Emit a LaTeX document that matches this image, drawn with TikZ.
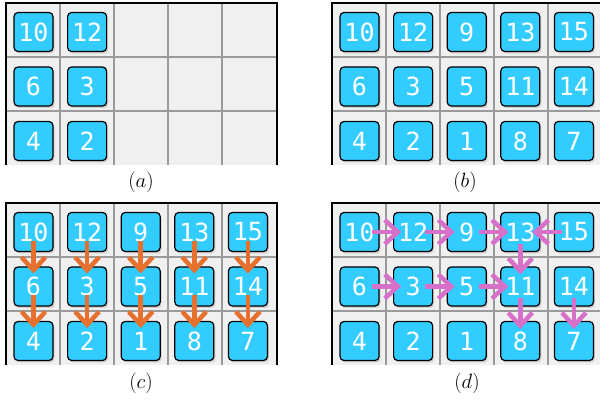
\documentclass[tikz,border=0pt]{standalone}
\usepackage{fontspec}
\usepackage{tikz}
\usetikzlibrary{arrows.meta,shadows}
\newfontfamily\tilefont{DejaVu Sans Mono}
\definecolor{tilecyan}{HTML}{33CCFF}
\definecolor{cellgrey}{HTML}{F0F0F0}
\definecolor{gridgrey}{HTML}{9A9A9A}
\definecolor{downorange}{HTML}{E8702F}
\definecolor{mergepink}{HTML}{D670C8}
\tikzset{
  tile/.style={draw=black, line width=1.2pt, fill=tilecyan, rounded corners=4pt,
    minimum size=39pt, inner sep=0pt, text=white,
    font=\tilefont\fontsize{25}{25}\selectfont,
    drop shadow={shadow xshift=1.5pt, shadow yshift=-2pt, opacity=0.3}},
  captext/.style={font=\fontsize{21}{24}\selectfont},
  gridline/.style={draw=gridgrey, line width=1.5pt},
  panelframe/.style={draw=black, line width=2pt},
  vflow/.style={draw=downorange, line width=4.5pt, -{Straight Barb[length=13pt,width=24pt]},
    shorten <=9pt, shorten >=13pt},
  hflow/.style={vflow, draw=mergepink, shorten <=12pt, shorten >=12pt},
}

\begin{document}
\begin{tikzpicture}[x=1pt, y=-1pt]
\useasboundingbox (0,0) rectangle (600,403);
% the four boards
\foreach \px/\py in {6/3, 332/3, 6/203, 332/203} {
  \fill[cellgrey] (\px,\py) rectangle (\px+271,\py+162);
  \foreach \k in {1,...,4}
    \draw[gridline] (\px+54*\k,\py) -- (\px+54*\k,\py+162);
  \foreach \k in {1,2}
    \draw[gridline] (\px,\py+54*\k) -- (\px+271,\py+54*\k);
  \draw[panelframe] (\px,\py+162) -- (\px,\py) -- (\px+271,\py) -- (\px+271,\py+162);
}
% (a) first columns only
\foreach \row [count=\r from 0] in {{10,12},{6,3},{4,2}}
  \foreach \n [count=\c from 0] in \row
    \node[tile] (a\n) at (6+27.5+53.6*\c, 3+29+54.5*\r) {\n};
% (b), (c), (d) full boards
\foreach \p/\px/\py in {b/332/3, c/6/203, d/332/203}
  \foreach \row [count=\r from 0] in {{10,12,9,13,15},{6,3,5,11,14},{4,2,1,8,7}}
    \foreach \n [count=\c from 0] in \row
      \node[tile] (\p\n) at (\px+27.5+53.6*\c, \py+29+54.5*\r) {\n};
% captions
\node[captext] (capa) at (141,182) {$(a)$};
\node[captext] (capb) at (465,182) {$(b)$};
\node[captext] (capc) at (141,383) {$(c)$};
\node[captext] (capd) at (467,383) {$(d)$};
% (c) column moves
\foreach \s/\t in {10/6,12/3,9/5,13/11,15/14,6/4,3/2,5/1,11/8,14/7}
  \draw[vflow] (c\s.center) -- (c\t.center);
% (d) merge moves
\foreach \s/\t in {10/12,12/9,9/13,15/13,6/3,3/5,5/11,13/11,11/8,14/7}
  \draw[hflow] (d\s.center) -- (d\t.center);
\end{tikzpicture}
\end{document}
